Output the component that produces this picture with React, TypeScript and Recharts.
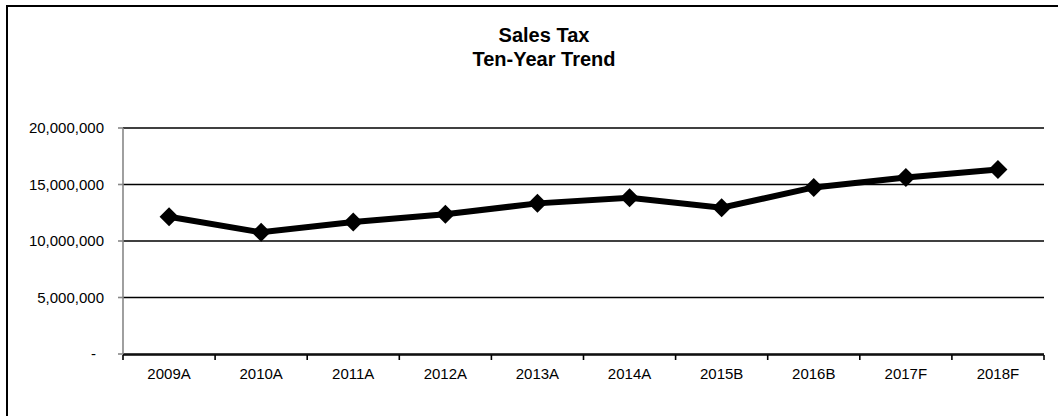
import React from 'react';
import { LineChart, Line, XAxis, YAxis, CartesianGrid } from 'recharts';

const years = ['2009A', '2010A', '2011A', '2012A', '2013A', '2014A', '2015B', '2016B', '2017F', '2018F'];
const salesTax = [12140000, 10770000, 11680000, 12360000, 13330000, 13820000, 12940000, 14740000, 15620000, 16330000];
const yTicks = [0, 5000000, 10000000, 15000000, 20000000];
const edgeTicks = [0, 1, 2, 3, 4, 5, 6, 7, 8, 9, 10];

const font = '"Liberation Sans", Arial, sans-serif';

const chartData = years.map((year, i) => ({
  year,
  idx: i + 0.5,
  value: salesTax[i],
}));

const Diamond = (props: any) => {
  const { cx, cy, index } = props;
  if (cx == null || cy == null) return null;
  const r = 9.5;
  return (
    <polygon
      key={`d-${index}`}
      points={`${cx},${cy - r} ${cx + r},${cy} ${cx},${cy + r} ${cx - r},${cy}`}
      fill="#000"
    />
  );
};

const YTick = (props: any) => {
  const { x, y, payload } = props;
  const v = payload.value;
  const label = v === 0 ? '-' : v.toLocaleString('en-US');
  return (
    <text
      x={x}
      y={y}
      dx={v === 0 ? -8 : 0}
      dy={5}
      textAnchor="end"
      fontSize={15}
      fontFamily={font}
      fill="#000"
    >
      {label}
    </text>
  );
};

// edge axis only needs the little tick marks, no labels
const NoLabel = () => <g />;

export default function App() {
  return (
    <div style={{ position: 'absolute', left: 0, top: 0, width: 1058, height: 416, background: '#fff', overflow: 'hidden' }}>
      <div
        style={{
          position: 'absolute',
          left: 6,
          top: 5,
          width: 1100,
          height: 500,
          borderLeft: '2px solid #000',
          borderTop: '2px solid #000',
        }}
      />
      <div
        style={{
          position: 'absolute',
          left: 344,
          width: 400,
          top: 23,
          textAlign: 'center',
          fontFamily: font,
          fontWeight: 'bold',
          fontSize: 20,
          lineHeight: '24px',
          color: '#000',
        }}
      >
        Sales Tax
        <br />
        Ten-Year Trend
      </div>
      <div style={{ position: 'absolute', left: 0, top: 0 }}>
        <LineChart width={1058} height={416} data={chartData} margin={{ top: 128, right: 14, left: 0, bottom: 60 }}>
          <CartesianGrid xAxisId="cat" vertical={false} stroke="#000" strokeWidth={1.6} />
          <XAxis
            xAxisId="edge"
            dataKey="idx"
            type="number"
            domain={[0, 10]}
            ticks={edgeTicks}
            interval={0}
            tick={<NoLabel />}
            tickSize={5}
            height={1}
            axisLine={{ stroke: '#000', strokeWidth: 1.6 }}
            tickLine={{ stroke: '#000', strokeWidth: 1.6 }}
          />
          <XAxis
            xAxisId="cat"
            dataKey="year"
            scale="band"
            height={1}
            axisLine={false}
            tickLine={false}
            tickSize={0}
            tickMargin={14}
            interval={0}
            tick={{ fill: '#000', fontSize: 15, fontFamily: font }}
          />
          <YAxis
            width={123}
            domain={[0, 20000000]}
            ticks={yTicks}
            tickSize={5}
            tickMargin={14}
            axisLine={{ stroke: '#888', strokeWidth: 1.6 }}
            tickLine={{ stroke: '#888', strokeWidth: 1.6 }}
            tick={<YTick />}
          />
          <Line
            xAxisId="cat"
            type="linear"
            dataKey="value"
            stroke="#000"
            strokeWidth={6}
            dot={Diamond}
            activeDot={false}
            isAnimationActive={false}
          />
        </LineChart>
      </div>
    </div>
  );
}
